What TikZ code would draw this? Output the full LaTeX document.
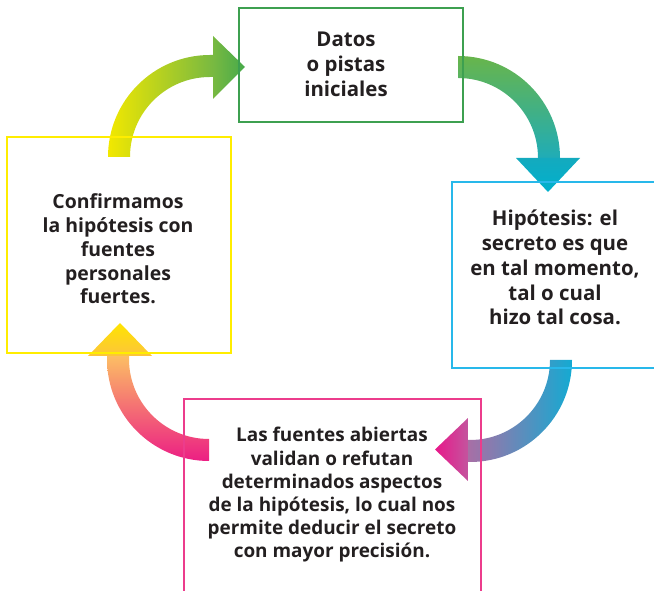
\documentclass[tikz,border=0pt]{standalone}
\usepackage{fontspec}
\setmainfont{Open Sans}
\definecolor{boxgreen}{RGB}{61,160,80}
\definecolor{boxyellow}{RGB}{255,237,0}
\definecolor{boxcyan}{RGB}{40,184,234}
\definecolor{boxmagenta}{RGB}{236,60,140}
\definecolor{txt}{RGB}{35,31,32}
\definecolor{aYel}{RGB}{242,232,0}
\definecolor{aGrnA}{RGB}{120,185,65}
\definecolor{aGrnB}{RGB}{70,170,75}
\definecolor{bGrn}{RGB}{104,181,75}
\definecolor{bTeal}{RGB}{30,172,185}
\definecolor{bHeadA}{RGB}{20,170,190}
\definecolor{bHeadB}{RGB}{0,176,205}
\definecolor{cCyan}{RGB}{20,170,210}
\definecolor{cPurp}{RGB}{170,110,165}
\definecolor{cHeadA}{RGB}{232,24,138}
\definecolor{cHeadB}{RGB}{196,84,158}
\definecolor{dOrng}{RGB}{252,190,100}
\definecolor{dMag}{RGB}{236,30,132}
\definecolor{dHeadA}{RGB}{255,228,0}
\definecolor{dHeadB}{RGB}{252,196,60}
\tikzset{
  box/.style={draw, line width=1.8bp, inner sep=0pt, fill=none},
  label/.style={align=center, text=txt, inner sep=0pt, font=\bfseries}
}
\begin{document}
\begin{tikzpicture}[x=1bp,y=1bp]
\useasboundingbox (0,0) rectangle (654,591);
% arrow 1: yellow -> green (top left)
\shade[left color=aYel, right color=aGrnA]
  (108,434) arc[start angle=180, end angle=90, radius=102] -- (213,536) -- (213,514) -- (210,514)
  arc[start angle=90, end angle=180, radius=80] -- cycle;
\shade[left color=aGrnA, right color=aGrnB] (213,555) -- (245,524) -- (213,492) -- cycle;
% arrow 2: green -> cyan (top right)
\shade[top color=bGrn, bottom color=bTeal]
  (458,535) arc[start angle=90, end angle=0, radius=102] -- (560,431) -- (538,431) -- (538,433)
  arc[start angle=0, end angle=90, radius=80] -- cycle;
\shade[top color=bHeadA, bottom color=bHeadB] (516,433) -- (580,433) -- (548,399) -- cycle;
% arrow 3: cyan -> magenta (bottom right)
\shade[left color=cPurp, right color=cCyan]
  (572,231) arc[start angle=0, end angle=-90, radius=102] -- (467,129) -- (467,151) -- (470,151)
  arc[start angle=-90, end angle=0, radius=80] -- cycle;
\shade[left color=cHeadA, right color=cHeadB] (468,173) -- (468,110) -- (435,141.5) -- cycle;
% arrow 4: magenta -> yellow (bottom left)
\shade[top color=dOrng, bottom color=dMag]
  (209,130) arc[start angle=-90, end angle=-180, radius=102] -- (107,235) -- (129,235) -- (129,232)
  arc[start angle=180, end angle=270, radius=80] -- cycle;
\shade[top color=dHeadA, bottom color=dHeadB] (88,235) -- (152,235) -- (120,268) -- cycle;
% boxes
\node[box, draw=boxgreen, minimum width=224bp, minimum height=114bp] (datos) at (351,526) {};
\node[box, draw=boxyellow, minimum width=224bp, minimum height=216bp] (confirm) at (119,346) {};
\node[box, draw=boxcyan, minimum width=205bp, minimum height=186bp] (hipo) at (554.5,316) {};
\node[box, draw=boxmagenta, minimum width=297bp, minimum height=202bp] (fuentes) at (332.5,91) {};
% texts
\node[label, font=\fontsize{20.5}{25}\selectfont\bfseries] (tdatos) at (346,526.5) {Datos\\o pistas\\iniciales};
\node[label, font=\fontsize{19.5}{23.8}\selectfont\bfseries] (tconfirm) at (118,342) {Confirmamos\\la hipótesis con\\fuentes\\personales\\fuertes.};
\node[label, font=\fontsize{20.5}{25}\selectfont\bfseries] (thipo) at (555,323.5) {Hipótesis: el\\secreto es que\\en tal momento,\\tal o cual\\hizo tal cosa.};
\node[label, font=\fontsize{19}{23.3}\selectfont\bfseries] (tfuentes) at (332,96) {Las fuentes abiertas\\validan o refutan\\determinados aspectos\\de la hipótesis, lo cual nos\\permite deducir el secreto\\con mayor precisión.};
\end{tikzpicture}
\end{document}
